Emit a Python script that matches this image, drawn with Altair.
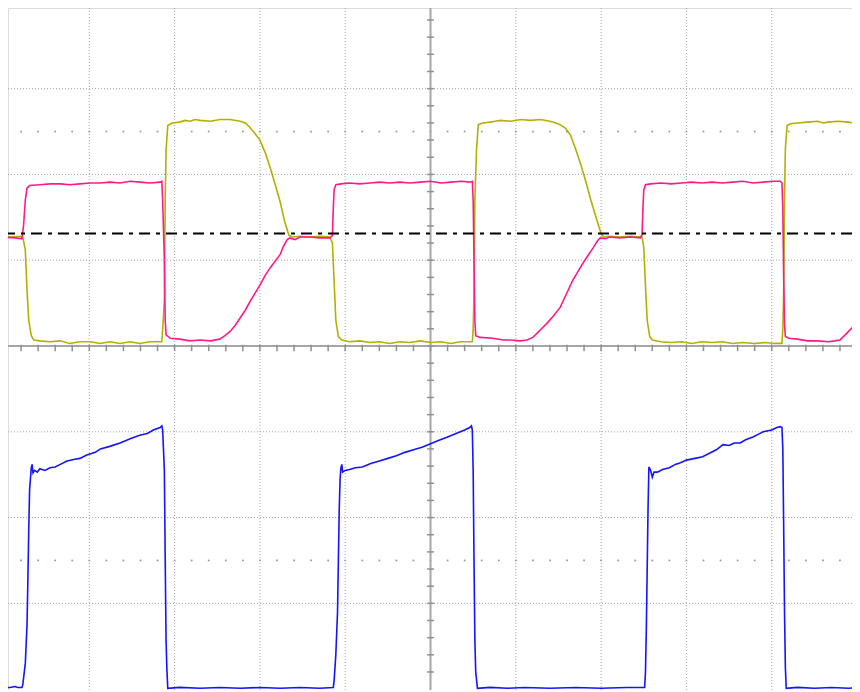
import altair as alt
import pandas as pd

# ---- trace values (x in divisions, y in divisions) ----
yellow_x = [0.00, 0.09, 0.19, 0.22, 0.25, 0.27, 0.29, 0.32, 0.35, 0.42, 0.54, 0.66, 0.77, 0.89, 1.01, 1.13, 1.24, 1.36, 1.48, 1.59, 1.71, 1.83, 1.85, 1.86, 1.88, 1.89, 1.90, 1.92, 1.97, 2.06, 2.12, 2.18, 2.24, 2.30, 2.42, 2.53, 2.65, 2.77, 2.83, 2.88, 2.94, 3.00, 3.06, 3.12, 3.18, 3.24, 3.29, 3.34, 3.38, 3.47, 3.59, 3.70, 3.82,
            3.85, 3.87, 3.89, 3.92, 3.96, 4.05, 4.17, 4.29, 4.40, 4.52, 4.64, 4.76, 4.88, 5.00, 5.12, 5.24, 5.35, 5.46, 5.49, 5.50, 5.51, 5.52, 5.54, 5.56, 5.61, 5.70, 5.76, 5.82, 5.94, 6.06, 6.17, 6.29, 6.40, 6.47, 6.52, 6.58, 6.64, 6.70, 6.76, 6.82, 6.88, 6.94, 7.00, 7.03, 7.10, 7.22, 7.34, 7.46,
            7.48, 7.50, 7.52, 7.54, 7.57, 7.60, 7.70, 7.82, 7.94, 8.06, 8.18, 8.30, 8.42, 8.54, 8.66, 8.80, 8.92, 9.04, 9.12, 9.13, 9.14, 9.15, 9.16, 9.18, 9.22, 9.30, 9.42, 9.54, 9.60, 9.66, 9.78, 9.90, 9.95, 10.0]
yellow_y = [1.27, 1.27, 1.28, 1.27, 1.12, 0.65, 0.30, 0.12, 0.07, 0.06, 0.05, 0.06, 0.03, 0.05, 0.05, 0.03, 0.05, 0.03, 0.05, 0.03, 0.05, 0.05, 0.05, 0.19, 0.54, 1.70, 2.28, 2.57, 2.60, 2.61, 2.63, 2.62, 2.64, 2.63, 2.62, 2.64, 2.64, 2.62, 2.60, 2.55, 2.48, 2.40, 2.26, 2.08, 1.88, 1.67, 1.45, 1.29, 1.27, 1.28, 1.27, 1.28, 1.27,
            1.20, 0.75, 0.30, 0.11, 0.07, 0.05, 0.06, 0.04, 0.05, 0.03, 0.05, 0.04, 0.06, 0.04, 0.05, 0.03, 0.05, 0.05, 0.05, 0.20, 0.60, 1.70, 2.30, 2.58, 2.60, 2.61, 2.62, 2.63, 2.62, 2.64, 2.63, 2.64, 2.62, 2.60, 2.58, 2.54, 2.46, 2.30, 2.12, 1.92, 1.70, 1.50, 1.31, 1.27, 1.28, 1.27, 1.28, 1.27,
            1.27, 1.15, 0.70, 0.30, 0.11, 0.07, 0.05, 0.04, 0.05, 0.03, 0.05, 0.04, 0.05, 0.03, 0.04, 0.03, 0.04, 0.03, 0.03, 0.20, 0.60, 1.70, 2.30, 2.57, 2.59, 2.60, 2.61, 2.62, 2.60, 2.61, 2.62, 2.61, 2.60, 2.61]

pink_x = [0.00, 0.13, 0.21, 0.23, 0.25, 0.27, 0.30, 0.42, 0.54, 0.66, 0.77, 0.89, 1.01, 1.13, 1.24, 1.36, 1.48, 1.59, 1.71, 1.83, 1.85, 1.86, 1.88, 1.89, 1.90, 1.95, 2.06, 2.18, 2.30, 2.42, 2.53, 2.59, 2.65, 2.71, 2.77, 2.83, 2.88, 2.94, 3.00, 3.06, 3.12, 3.18, 3.24, 3.27, 3.32, 3.35, 3.41, 3.47, 3.59, 3.70, 3.82, 3.85, 3.86, 3.87, 3.89,
          3.95, 4.05, 4.17, 4.29, 4.40, 4.52, 4.64, 4.76, 4.88, 5.00, 5.12, 5.24, 5.36, 5.46, 5.49, 5.50, 5.51, 5.52, 5.53, 5.58, 5.73, 5.85, 5.93, 6.05, 6.13, 6.20, 6.25, 6.31, 6.37, 6.44, 6.52, 6.59, 6.67, 6.73, 6.79, 6.85, 6.91, 6.96, 6.99, 7.05, 7.10, 7.22, 7.34, 7.46, 7.48, 7.49, 7.50, 7.52,
          7.58, 7.70, 7.82, 7.94, 8.06, 8.18, 8.30, 8.42, 8.54, 8.66, 8.78, 8.90, 9.02, 9.10, 9.12, 9.13, 9.14, 9.15, 9.16, 9.20, 9.30, 9.42, 9.54, 9.66, 9.74, 9.80, 9.88, 9.95, 10.0]
pink_y = [1.27, 1.26, 1.25, 1.41, 1.70, 1.84, 1.87, 1.88, 1.89, 1.89, 1.88, 1.89, 1.90, 1.90, 1.91, 1.90, 1.92, 1.91, 1.90, 1.91, 1.92, 1.70, 1.00, 0.30, 0.13, 0.09, 0.08, 0.06, 0.07, 0.06, 0.08, 0.12, 0.17, 0.24, 0.33, 0.42, 0.51, 0.61, 0.71, 0.82, 0.91, 0.99, 1.07, 1.15, 1.24, 1.26, 1.24, 1.27, 1.27, 1.26, 1.26, 1.29, 1.59, 1.82, 1.88,
          1.89, 1.90, 1.89, 1.90, 1.91, 1.90, 1.91, 1.90, 1.91, 1.92, 1.90, 1.91, 1.92, 1.91, 1.92, 1.70, 1.00, 0.30, 0.12, 0.10, 0.09, 0.07, 0.07, 0.06, 0.07, 0.10, 0.15, 0.21, 0.27, 0.35, 0.45, 0.60, 0.77, 0.87, 0.97, 1.06, 1.15, 1.23, 1.26, 1.25, 1.27, 1.26, 1.27, 1.26, 1.30, 1.60, 1.82, 1.88,
          1.89, 1.90, 1.89, 1.90, 1.91, 1.90, 1.91, 1.90, 1.91, 1.92, 1.90, 1.91, 1.92, 1.92, 1.90, 1.60, 0.80, 0.25, 0.11, 0.09, 0.08, 0.06, 0.06, 0.05, 0.06, 0.07, 0.15, 0.22, 0.30]

blue_x = [0.00, 0.07, 0.13, 0.16, 0.21, 0.22, 0.25, 0.27, 0.28, 0.29, 0.30, 0.32, 0.33, 0.34, 0.36, 0.39, 0.42, 0.48, 0.54, 0.60, 0.66, 0.74, 0.83, 0.89, 0.97, 1.07, 1.13, 1.24, 1.36, 1.48, 1.59, 1.68, 1.75, 1.83, 1.85, 1.86, 1.88, 1.89, 1.90, 1.91, 1.92, 2.06, 2.30, 2.53, 2.77, 3.00, 3.24, 3.47, 3.70, 3.86,
          3.87, 3.89, 3.91, 3.92, 3.93, 3.94, 3.95, 3.96, 3.97, 4.00, 4.05, 4.12, 4.20, 4.30, 4.40, 4.50, 4.60, 4.70, 4.80, 4.90, 5.00, 5.10, 5.20, 5.30, 5.40, 5.46, 5.48, 5.49, 5.50, 5.51, 5.52, 5.53, 5.55, 5.70, 5.90, 6.10, 6.40, 6.70, 7.00, 7.30, 7.51,
          7.52, 7.53, 7.54, 7.55, 7.56, 7.58, 7.60, 7.62, 7.66, 7.72, 7.80, 7.87, 7.93, 8.00, 8.10, 8.19, 8.27, 8.35, 8.43, 8.50, 8.56, 8.63, 8.70, 8.78, 8.84, 8.90, 9.00, 9.06, 9.10, 9.12, 9.13, 9.14, 9.15, 9.16, 9.17, 9.30, 9.50, 9.70, 9.90, 10.0]
blue_y = [-3.98, -3.98, -3.97, -3.98, -3.98, -3.95, -3.70, -3.25, -2.73, -2.15, -1.68, -1.42, -1.38, -1.48, -1.45, -1.47, -1.43, -1.45, -1.42, -1.41, -1.38, -1.34, -1.32, -1.31, -1.27, -1.24, -1.20, -1.17, -1.13, -1.08, -1.04, -1.02, -0.98, -0.95, -0.93, -0.98, -1.45, -2.50, -3.43, -3.78, -3.99, -3.98, -3.99, -3.98, -3.99, -3.98, -3.99, -3.98, -3.99, -3.98,
          -3.90, -3.60, -3.10, -2.50, -1.90, -1.55, -1.42, -1.38, -1.47, -1.45, -1.44, -1.42, -1.41, -1.37, -1.34, -1.31, -1.28, -1.24, -1.21, -1.18, -1.14, -1.10, -1.06, -1.02, -0.98, -0.95, -0.93, -0.98, -1.45, -2.50, -3.43, -3.80, -3.99, -3.98, -3.99, -3.98, -3.99, -3.98, -3.99, -3.98, -3.98,
          -3.80, -3.30, -2.60, -1.90, -1.41, -1.45, -1.53, -1.47, -1.47, -1.44, -1.42, -1.38, -1.36, -1.33, -1.31, -1.29, -1.25, -1.21, -1.15, -1.16, -1.13, -1.13, -1.09, -1.06, -1.03, -1.00, -0.98, -0.95, -0.94, -0.95, -1.20, -2.10, -3.10, -3.75, -3.99, -3.98, -3.99, -3.98, -3.99, -3.98]

trigger_level = [1.31]

# graticule
grid_x = [1, 2, 3, 4, 6, 7, 8, 9]
grid_y = [-3, -2, -1, 1, 2, 3]
center_x = [5]
center_y = [0]
minor_x = [round(0.2 * i, 1) for i in range(1, 50)]
minor_y = [round(-3.8 + 0.2 * i, 1) for i in range(0, 39)]
dot_rows = [-2.5, 2.5]

XD = [0.047, 9.941]
YD = [-4.01, 3.94]
xs = alt.Scale(domain=XD, nice=False, zero=False)
ys = alt.Scale(domain=YD, nice=False, zero=False)

def df(xv, yv, ch):
    return pd.DataFrame({"t": xv, "v": yv, "i": list(range(len(xv))), "ch": ch})

traces = pd.concat([df(yellow_x, yellow_y, "CH1"), df(pink_x, pink_y, "CH2"), df(blue_x, blue_y, "CH3")])

GRID = "#a6a6a6"

vgrid = alt.Chart(pd.DataFrame({"x": grid_x})).mark_rule(color=GRID, strokeDash=[1, 2], strokeWidth=1).encode(
    x=alt.X("x:Q", scale=xs, axis=None))
hgrid = alt.Chart(pd.DataFrame({"y": grid_y})).mark_rule(color=GRID, strokeDash=[1, 2], strokeWidth=1).encode(
    y=alt.Y("y:Q", scale=ys, axis=None))
vcen = alt.Chart(pd.DataFrame({"x": center_x})).mark_rule(color=GRID, strokeWidth=2).encode(
    x=alt.X("x:Q", scale=xs, axis=None))
hcen = alt.Chart(pd.DataFrame({"y": center_y})).mark_rule(color=GRID, strokeWidth=2).encode(
    y=alt.Y("y:Q", scale=ys, axis=None))

hticks = alt.Chart(pd.DataFrame({"x": minor_x})).transform_calculate(y0="-0.06", y1="0.015").mark_rule(
    color="#909090", strokeWidth=1.5).encode(
    x=alt.X("x:Q", scale=xs, axis=None), y=alt.Y("y0:Q", scale=ys, axis=None), y2="y1:Q")
vticks = alt.Chart(pd.DataFrame({"y": minor_y})).transform_calculate(x0="4.96", x1="5.04").mark_rule(
    color="#909090", strokeWidth=1.5).encode(
    y=alt.Y("y:Q", scale=ys, axis=None), x=alt.X("x0:Q", scale=xs, axis=None), x2="x1:Q")

dots_df = pd.DataFrame([{"x": x, "y": y} for y in dot_rows for x in minor_x])
dots = alt.Chart(dots_df).mark_square(color="#9a9a9a", size=3, opacity=1).encode(
    x=alt.X("x:Q", scale=xs, axis=None), y=alt.Y("y:Q", scale=ys, axis=None))

trig = alt.Chart(pd.DataFrame({"y": trigger_level})).mark_rule(
    color="#000000", strokeWidth=2, strokeDash=[11, 6, 4, 6]).encode(
    y=alt.Y("y:Q", scale=ys, axis=None))

lines = alt.Chart(traces).mark_line(strokeWidth=1.6, clip=True, interpolate="linear").encode(
    x=alt.X("t:Q", scale=xs, axis=None),
    y=alt.Y("v:Q", scale=ys, axis=None),
    color=alt.Color("ch:N", scale=alt.Scale(domain=["CH1", "CH2", "CH3"],
                                            range=["#b3b000", "#ff1a8c", "#1414ff"]), legend=None),
    detail="ch:N",
    order="i:Q",
)

chart = alt.layer(vgrid, hgrid, dots, vcen, hcen, hticks, vticks, lines, trig).properties(
    width=844, height=682, autosize=alt.AutoSizeParams(type="none"), padding=0
).configure_view(stroke="#a0a0a0", strokeWidth=4).configure(background="white")

chart.save("out.html", embed_options={"renderer": "svg", "actions": False})
